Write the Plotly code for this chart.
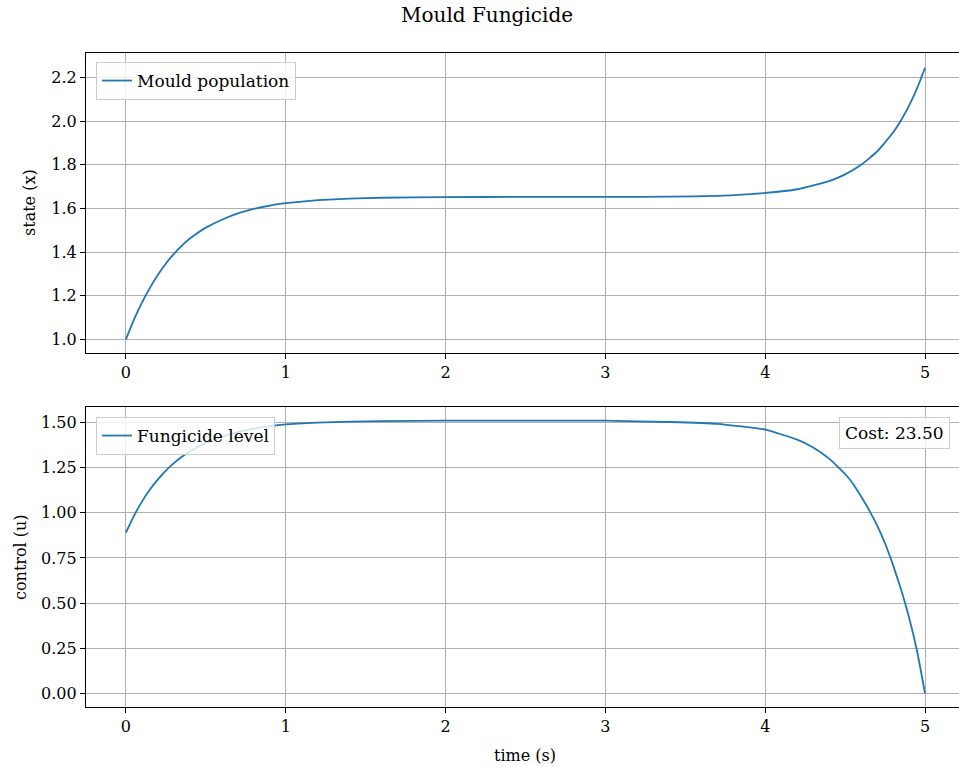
import plotly.graph_objects as go

# ---- data ----
t_state = [0.0, 0.05, 0.1, 0.15, 0.2, 0.25, 0.3, 0.35, 0.4, 0.45, 0.5, 0.6, 0.7, 0.8,
           0.9, 1.0, 1.2, 1.4, 1.6, 2.0, 2.5, 3.0, 3.4, 3.7, 4.0, 4.2, 4.4, 4.5,
           4.6, 4.7, 4.8, 4.85, 4.9, 4.95, 5.0]
state_x = [1.000, 1.090, 1.168, 1.236, 1.296, 1.348, 1.392, 1.430, 1.462, 1.489,
           1.512, 1.548, 1.577, 1.598, 1.613, 1.624, 1.638, 1.645, 1.649, 1.652,
           1.653, 1.653, 1.654, 1.658, 1.671, 1.688, 1.725, 1.756, 1.800, 1.861,
           1.948, 2.004, 2.071, 2.150, 2.245]
t_control = [0.0, 0.05, 0.1, 0.15, 0.2, 0.25, 0.3, 0.35, 0.4, 0.5, 0.6, 0.7, 0.8,
             0.9, 1.0, 1.2, 1.4, 1.6, 2.0, 2.5, 3.0, 3.4, 3.7, 4.0, 4.2, 4.3, 4.4,
             4.5, 4.55, 4.6, 4.65, 4.7, 4.75, 4.8, 4.85, 4.9, 4.95, 5.0]
control_u = [0.891, 0.983, 1.062, 1.129, 1.185, 1.234, 1.275, 1.310, 1.340, 1.387,
             1.421, 1.447, 1.466, 1.480, 1.490, 1.500, 1.505, 1.508, 1.510, 1.511,
             1.510, 1.503, 1.493, 1.461, 1.405, 1.362, 1.300, 1.215, 1.160, 1.090,
             1.015, 0.930, 0.830, 0.710, 0.575, 0.420, 0.235, 0.000]
x_ticks = [0, 1, 2, 3, 4, 5]
cost_text = "Cost: 23.50"

FONT = "DejaVu Serif"
FS = 16
BLUE = "#1f77b4"
GRID = "#b0b0b0"

W, H = 959, 767
L, R, T, B = 86, 0, 53, 60
PH = H - T - B  # 654
PW = W - L - R  # 873


def py(pix):
    return (H - B - pix) / PH


def px(pix):
    return (pix - L) / PW


fig = go.Figure()
fig.add_trace(go.Scatter(x=t_state, y=state_x, mode="lines", name="Mould population",
                         line=dict(color=BLUE, width=1.8, shape="spline", smoothing=0.4),
                         xaxis="x", yaxis="y", legend="legend"))
fig.add_trace(go.Scatter(x=t_control, y=control_u, mode="lines", name="Fungicide level",
                         line=dict(color=BLUE, width=1.8, shape="spline", smoothing=0.4),
                         xaxis="x2", yaxis="y2", legend="legend2"))

axis_common = dict(showline=True, linecolor="black", linewidth=1.2,
                   showgrid=True, gridcolor=GRID, gridwidth=1,
                   ticks="outside", ticklen=5, tickwidth=1, tickcolor="black",
                   zeroline=False, tickfont=dict(family=FONT, size=FS, color="black"))

# plot area is cut by the right edge of the figure, as in the reference
x_range = [-0.25, -0.25 + 5.5 * PW / 879]

fig.update_layout(
    width=W, height=H,
    margin=dict(l=L, r=R, t=T, b=B, autoexpand=False),
    plot_bgcolor="white", paper_bgcolor="white",
    font=dict(family=FONT, size=FS, color="black"),
    xaxis=dict(domain=[0, 1], range=x_range, tickvals=x_ticks, anchor="y",
               mirror=True, **axis_common),
    yaxis=dict(domain=[py(353), 1], range=[0.9375, 2.3125], dtick=0.2, tick0=1.0,
               tickformat=".1f", anchor="x", mirror=False, **axis_common),
    xaxis2=dict(domain=[0, 1], range=x_range, tickvals=x_ticks, anchor="y2",
                mirror=True, **axis_common),
    yaxis2=dict(domain=[0, py(407)], range=[-0.0755, 1.586], dtick=0.25, tick0=0,
                tickformat=".2f", anchor="x2", mirror=False, **axis_common),
    legend=dict(x=px(96), y=py(62), xanchor="left", yanchor="top",
                bgcolor="rgba(255,255,255,0.8)", bordercolor="#cccccc", borderwidth=1,
                font=dict(family=FONT, size=17)),
    legend2=dict(x=px(96), y=py(417), xanchor="left", yanchor="top",
                 bgcolor="rgba(255,255,255,0.8)", bordercolor="#cccccc", borderwidth=1,
                 font=dict(family=FONT, size=17)),
    showlegend=True,
)

annotations = [
    dict(text="Mould Fungicide", x=px(487), y=py(15), xref="paper", yref="paper",
         showarrow=False, font=dict(family=FONT, size=20), xanchor="center", yanchor="middle"),
    dict(text="state (x)", x=px(30), y=(py(353) + 1) / 2, xref="paper", yref="paper",
         showarrow=False, textangle=-90, font=dict(family=FONT, size=FS),
         xanchor="center", yanchor="middle"),
    dict(text="control (u)", x=px(20), y=py(407) / 2, xref="paper", yref="paper",
         showarrow=False, textangle=-90, font=dict(family=FONT, size=FS),
         xanchor="center", yanchor="middle"),
    dict(text="time (s)", x=px(525), y=py(755), xref="paper", yref="paper",
         showarrow=False, font=dict(family=FONT, size=FS),
         xanchor="center", yanchor="middle"),
    dict(text=cost_text, x=px(950), y=py(417), xref="paper", yref="paper",
         showarrow=False, font=dict(family=FONT, size=17),
         xanchor="right", yanchor="top", bgcolor="rgba(255,255,255,0.8)",
         bordercolor="#cccccc", borderwidth=1, borderpad=5),
]
fig.update_layout(annotations=annotations)

fig.write_html("out.html")
